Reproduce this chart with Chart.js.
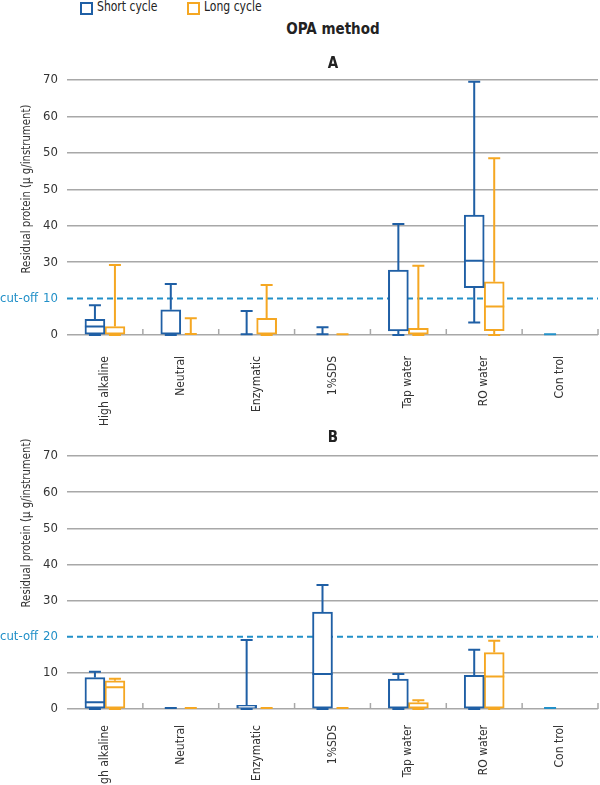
<!DOCTYPE html>
<html>
<head>
<meta charset="utf-8">
<script src="https://cdn.jsdelivr.net/npm/chart.js@4.4.1/dist/chart.umd.min.js"></script>
<style>
  body { margin: 0; background: #fff; width: 600px; height: 785px; position: relative; overflow: hidden;
         font-family: 'DejaVu Sans Condensed', 'Roboto', sans-serif; color: #222; }
  .sq { position: absolute; top: 2px; width: 9px; height: 9px; border: 2px solid; }
  .lg { position: absolute; top: -2px; font-size: 14px; transform-origin: left center; transform: scaleX(0.86); }
  .ttl { position: absolute; left: 233px; width: 200px; text-align: center; font-weight: bold; font-size: 15px; }
  .ytitle { position: absolute; left: 25px; font-size: 13px; white-space: nowrap; color: #333;
            transform: translate(-50%, -50%) rotate(-90deg) scaleX(0.87); }
  canvas { position: absolute; left: 0; }
</style>
</head>
<body>
<canvas id="chartA" width="600" height="370" style="top:60px"></canvas>
<canvas id="chartB" width="600" height="355" style="top:430px"></canvas>

<div class="sq" style="left:80px;border-color:#1f5fa5"></div>
<div class="lg" style="left:97px">Short cycle</div>
<div class="sq" style="left:187px;border-color:#f5a722"></div>
<div class="lg" style="left:204px">Long cycle</div>
<div class="ttl" style="top:20px">OPA method</div>
<div class="ttl" style="top:54px">A</div>
<div class="ttl" style="top:428px">B</div>
<div class="ytitle" style="top:189px">Residual protein (µ g/instrument)</div>
<div class="ytitle" style="top:523px">Residual protein (µ g/instrument)</div>

<script>
const categories = ['High alkaline', 'Neutral', 'Enzymatic', '1%SDS', 'Tap water', 'RO water', 'Con trol'];

// tick labels as printed (panel A has them misprinted in the original)
const tickLabelsA = ['0', '10', '30', '40', '50', '50', '60', '70'];
const tickLabelsB = ['0', '10', '20', '30', '40', '50', '60', '70'];
const cutoffA = 10;
const cutoffB = 20;

// Panel A - short cycle
const shortMinA = [0, 0, 0.2, 0.2, 0, 3.4, 0.2];
const shortQ1A  = [0, 0, 0.2, 0.2, 1.1, 13, 0.2];
const shortMedA = [2.3, null, null, null, null, 20.4, null];
const shortQ3A  = [4.3, 6.9, 0.2, 0.2, 17.8, 32.9, 0.2];
const shortMaxA = [8.2, 14, 6.6, 2.1, 30.5, 69.5, 0.2];
// Panel A - long cycle
const longMinA = [0, 0.3, 0, 0.2, 0, 0, null];
const longQ1A  = [0, 0.3, 0, 0.2, 0, 1.2, null];
const longMedA = [null, null, null, null, null, 7.8, null];
const longQ3A  = [2.3, 0.3, 4.6, 0.2, 1.8, 14.6, null];
const longMaxA = [19.2, 4.6, 13.7, 0.2, 19, 48.5, null];

// Panel B - short cycle
const shortMinB = [0, 0.3, 0, 0, 0, 0, 0.3];
const shortQ1B  = [0, 0.3, 0, 0, 0, 0, 0.3];
const shortMedB = [1.9, null, null, 9.7, null, null, null];
const shortQ3B  = [8.7, 0.3, 1.0, 26.8, 8.3, 9.3, 0.3];
const shortMaxB = [10.3, 0.3, 19.1, 34.3, 9.7, 16.4, 0.3];
// Panel B - long cycle
const longMinB = [0, 0.3, 0.3, 0.3, 0, 0, null];
const longQ1B  = [0, 0.3, 0.3, 0.3, 0, 0, null];
const longMedB = [6.0, null, null, null, null, 9.0, null];
const longQ3B  = [7.8, 0.3, 0.3, 0.3, 1.8, 15.6, null];
const longMaxB = [8.4, 0.3, 0.3, 0.3, 2.4, 18.9, null];

const BLUE = '#1f5fa5';
const ORANGE = '#f5a722';
const TEAL = '#2290c8';
const GRID = '#a8a8a8';
const FONT = "'DejaVu Sans Condensed', 'Roboto', sans-serif";

// draws whiskers, medians, the cut-off line and the small category ticks
const boxWhiskers = {
  id: 'boxWhiskers',
  beforeDatasetsDraw(chart) {
    const { ctx, chartArea, scales: { x, y } } = chart;
    const cut = chart.options.plugins.boxWhiskers.cutoff;
    const py = y.getPixelForValue(cut);
    ctx.save();
    ctx.strokeStyle = TEAL;
    ctx.lineWidth = 2;
    ctx.setLineDash([6, 4]);
    ctx.beginPath();
    ctx.moveTo(chartArea.left, py);
    ctx.lineTo(chartArea.right, py);
    ctx.stroke();
    ctx.setLineDash([]);
    ctx.fillStyle = TEAL;
    ctx.font = '13px ' + FONT;
    ctx.textAlign = 'left';
    ctx.textBaseline = 'middle';
    ctx.fillText('cut-off', 0, py);

    // little tick marks between categories, pointing up
    const half = (x.getPixelForValue(1) - x.getPixelForValue(0)) / 2;
    const y0 = y.getPixelForValue(0);
    ctx.strokeStyle = GRID;
    ctx.lineWidth = 1.5;
    for (let i = 0; i < categories.length; i++) {
      const bx = x.getPixelForValue(i) + half;
      ctx.beginPath();
      ctx.moveTo(bx, y0);
      ctx.lineTo(bx, y0 - 6);
      ctx.stroke();
    }
    ctx.restore();
  },
  afterDatasetsDraw(chart) {
    const { ctx, scales: { y } } = chart;
    ctx.save();
    ctx.lineWidth = 2;
    chart.data.datasets.forEach((ds, di) => {
      const meta = chart.getDatasetMeta(di);
      meta.data.forEach((bar, i) => {
        if (ds.whiskerMax[i] == null) return;
        const xc = bar.x;
        const w = bar.width;
        ctx.strokeStyle = Array.isArray(ds.borderColor) ? ds.borderColor[i] : ds.borderColor;
        const pMax = y.getPixelForValue(ds.whiskerMax[i]);
        const pMin = y.getPixelForValue(ds.whiskerMin[i]);
        const pQ3 = y.getPixelForValue(ds.data[i][1]);
        const pQ1 = y.getPixelForValue(ds.data[i][0]);
        ctx.beginPath();
        ctx.moveTo(xc, pQ3); ctx.lineTo(xc, pMax);
        ctx.moveTo(xc, pQ1); ctx.lineTo(xc, pMin);
        ctx.moveTo(xc - 6, pMax); ctx.lineTo(xc + 6, pMax);
        ctx.moveTo(xc - 6, pMin); ctx.lineTo(xc + 6, pMin);
        if (ds.median[i] != null) {
          const pMed = y.getPixelForValue(ds.median[i]);
          ctx.moveTo(xc - w / 2, pMed); ctx.lineTo(xc + w / 2, pMed);
        }
        ctx.stroke();
      });
    });
    ctx.restore();
  }
};

function boxData(q1, q3) {
  return q1.map((v, i) => (v == null ? null : [v, q3[i]]));
}

function makeChart(id, s, tickLabels, cutoff, topPad, xHeight, xPad) {
  const ctx = document.getElementById(id).getContext('2d');
  return new Chart(ctx, {
    type: 'bar',
    data: {
      labels: categories,
      datasets: [{
        label: 'Short cycle',
        data: boxData(s.shortQ1, s.shortQ3),
        whiskerMin: s.shortMin,
        whiskerMax: s.shortMax,
        median: s.shortMed,
        borderColor: categories.map((c, i) => (i === categories.length - 1 ? TEAL : BLUE)),
        backgroundColor: '#fff',
        borderWidth: 2,
        borderSkipped: false
      }, {
        label: 'Long cycle',
        data: boxData(s.longQ1, s.longQ3),
        whiskerMin: s.longMin,
        whiskerMax: s.longMax,
        median: s.longMed,
        borderColor: ORANGE,
        backgroundColor: '#fff',
        borderWidth: 2,
        borderSkipped: false
      }]
    },
    options: {
      responsive: false,
      animation: false,
      barThickness: 20,
      categoryPercentage: 0.685,
      layout: { padding: { top: topPad, right: 2, left: 0, bottom: 0 } },
      plugins: {
        legend: { display: false },
        tooltip: { enabled: false },
        boxWhiskers: { cutoff: cutoff }
      },
      scales: {
        x: {
          afterFit: scale => { scale.height = xHeight; },
          grid: { display: false },
          border: { display: false },
          ticks: {
            minRotation: 90, maxRotation: 90, padding: xPad,
            color: '#333', font: { family: FONT, size: 12 }
          }
        },
        y: {
          min: 0, max: 70,
          afterFit: scale => { scale.width = 67; },
          border: { display: false },
          grid: {
            drawTicks: false,
            lineWidth: 1.5,
            color: c => (c.tick && c.tick.value === cutoff ? 'rgba(0,0,0,0)' : GRID)
          },
          ticks: {
            stepSize: 10, padding: 9,
            color: c => (c.tick && c.tick.value === cutoff ? TEAL : '#333'),
            font: { family: FONT, size: 13 },
            callback: v => tickLabels[Math.round(v / 10)]
          }
        }
      }
    },
    plugins: [boxWhiskers]
  });
}

makeChart('chartA', {
  shortMin: shortMinA, shortQ1: shortQ1A, shortMed: shortMedA, shortQ3: shortQ3A, shortMax: shortMaxA,
  longMin: longMinA, longQ1: longQ1A, longMed: longMedA, longQ3: longQ3A, longMax: longMaxA
}, tickLabelsA, cutoffA, 20, 95, 13);

makeChart('chartB', {
  shortMin: shortMinB, shortQ1: shortQ1B, shortMed: shortMedB, shortQ3: shortQ3B, shortMax: shortMaxB,
  longMin: longMinB, longQ1: longQ1B, longMed: longMedB, longQ3: longQ3B, longMax: longMaxB
}, tickLabelsB, cutoffB, 26, 76, 8);
</script>
</body>
</html>
